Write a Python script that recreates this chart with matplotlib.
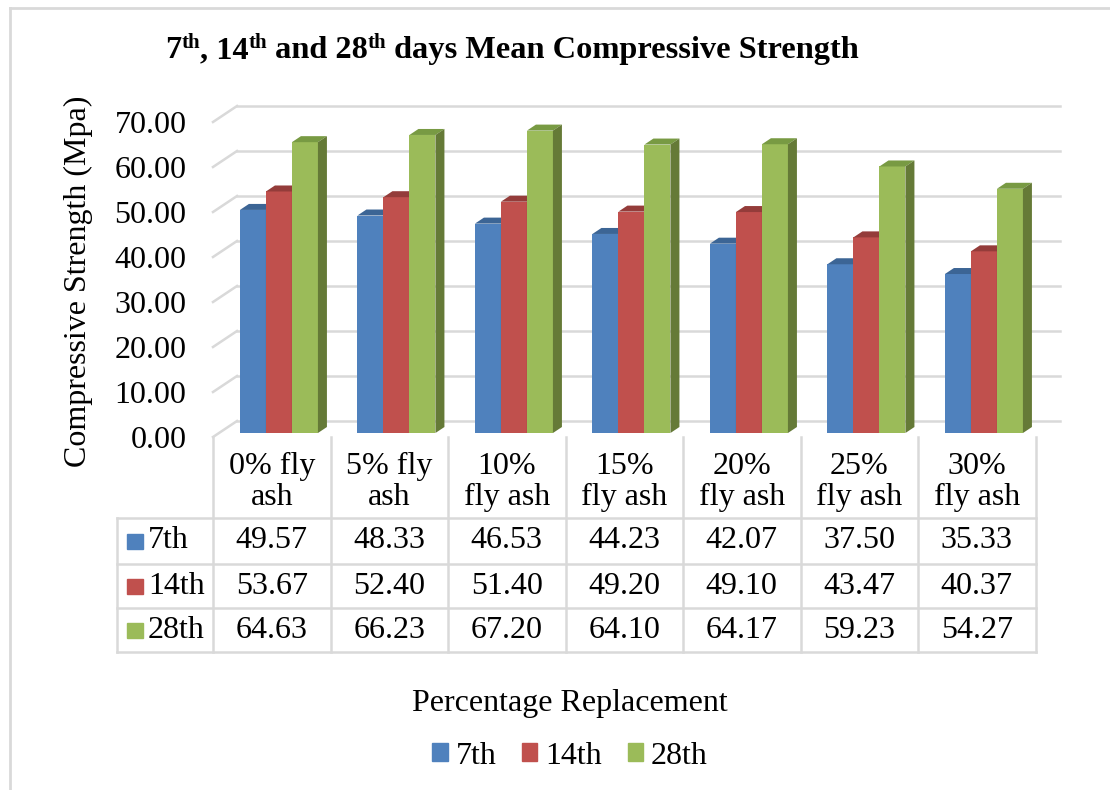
import matplotlib
matplotlib.use('Agg')
import matplotlib.pyplot as plt
from matplotlib.patches import Polygon, Patch
from matplotlib.lines import Line2D
import numpy as np

plt.rcParams['font.family'] = ['Liberation Serif', 'DejaVu Serif']

# data
categories = ['0% fly\nash', '5% fly\nash', '10%\nfly ash', '15%\nfly ash',
              '20%\nfly ash', '25%\nfly ash', '30%\nfly ash']
series_names = ['7th', '14th', '28th']
day7 = [49.57, 48.33, 46.53, 44.23, 42.07, 37.50, 35.33]
day14 = [53.67, 52.40, 51.40, 49.20, 49.10, 43.47, 40.37]
day28 = [64.63, 66.23, 67.20, 64.10, 64.17, 59.23, 54.27]
yticks = [0, 10, 20, 30, 40, 50, 60, 70]

front = ['#4F81BD', '#C0504D', '#9BBB59']
tops = ['#3C6595', '#943C3A', '#789A43']
sides = ['#2F5079', '#7A2F2D', '#657A37']
grid_c = '#D9D9D9'
FS = 23

W, H = 1110, 790
def fx(px): return px / W
def fy(py): return 1 - py / H

fig = plt.figure(figsize=(11.1, 7.9), dpi=100)

# main plot, x: category units, y: value units (front plane)
ax = fig.add_axes([fx(213), fy(437), fx(1035.5) - fx(213), fy(77) - fy(437)])
ax.set_xlim(-0.5, 6.5)
ax.set_ylim(0, 80)
for s in ax.spines.values():
    s.set_visible(False)
ax.set_xticks([])
ax.set_yticks(yticks)
ax.set_yticklabels([f'{v:.2f}' for v in yticks], fontsize=FS)
ax.tick_params(axis='y', length=0, pad=19)

# depth of the floor in data units
px_x = 822.5 / 7
px_y = 360 / 80
DX = 24 / px_x
DY = 16 / px_y

# back wall gridlines and left wall diagonals
for v in yticks:
    ax.plot([-0.5 + DX, 6.5 + DX], [v + DY, v + DY], color=grid_c, lw=1.8,
            clip_on=False, zorder=1)
    ax.plot([-0.5, -0.5 + DX], [v, v + DY], color=grid_c, lw=1.8,
            clip_on=False, zorder=1)

# 3d-ish bars
f1, f2 = 0.25, 0.625
w = 26 / px_x
x = np.arange(len(categories))
z = 3
for i, vals in enumerate([day7, day14, day28]):
    xl = x - 1.5 * w + i * w + f1 * DX + 0.01
    b0 = f1 * DY
    ddx = (f2 - f1) * DX
    ddy = (f2 - f1) * DY
    for j in range(len(x)):
        v = vals[j]
        ax.bar(xl[j], v, width=w, bottom=b0, align='edge', color=front[i],
               lw=0, zorder=z, clip_on=False)
        top = Polygon([(xl[j], b0 + v), (xl[j] + w, b0 + v),
                       (xl[j] + w + ddx, b0 + v + ddy), (xl[j] + ddx, b0 + v + ddy)],
                      closed=True, fc=tops[i], lw=0, zorder=z, clip_on=False)
        side = Polygon([(xl[j] + w, b0), (xl[j] + w, b0 + v),
                        (xl[j] + w + ddx, b0 + v + ddy), (xl[j] + w + ddx, b0 + ddy)],
                       closed=True, fc=sides[i], lw=0, zorder=z, clip_on=False)
        ax.add_patch(top)
        ax.add_patch(side)
    z += 1

# data table below
tab = fig.add_axes([fx(213), fy(652), fx(1035.5) - fx(213), fy(437) - fy(652)])
tab.set_xlim(-0.5, 6.5)
tab.set_ylim(215, 0)
tab.axis('off')
row_edges = [0, 81, 127, 171, 215]
left_x = -0.5 - 96 / px_x
for k in range(len(categories) + 1):
    tab.plot([k - 0.5, k - 0.5], [0, 215], color=grid_c, lw=1.8, clip_on=False)
tab.plot([left_x, left_x], [81, 215], color=grid_c, lw=1.8, clip_on=False)
for ye in row_edges[1:]:
    tab.plot([left_x, 6.5], [ye, ye], color=grid_c, lw=1.8, clip_on=False)

for j, c in enumerate(categories):
    tab.text(j, 45, c, ha='center', va='center', fontsize=FS, linespacing=1.08)

for i, vals in enumerate([day7, day14, day28]):
    yc = (row_edges[i + 1] + row_edges[i + 2]) / 2
    for j, v in enumerate(vals):
        tab.text(j, yc, f'{v:.2f}', ha='center', va='center', fontsize=FS)
    tab.add_patch(plt.Rectangle((left_x + 10 / px_x, yc - 7), 16 / px_x, 15,
                                color=front[i], clip_on=False))
    tab.text(left_x + 31 / px_x, yc, series_names[i], ha='left', va='center',
             fontsize=FS)

# title with superscripts
r = fig.canvas.get_renderer()
pieces = [('7', False), ('th', True), (', 14', False), ('th', True),
          (' and 28', False), ('th', True), (' days Mean Compressive Strength', False)]
xp = 165
for s, sup in pieces:
    t = fig.text(fx(xp), fy(58 - (10 if sup else 0)), s, fontsize=15 if sup else 23.3,
                 fontweight='bold', ha='left', va='baseline')
    xp += t.get_window_extent(r).width

fig.text(fx(78), fy(281), 'Compressive Strength (Mpa)', rotation=90,
         ha='center', va='center', fontsize=FS)
fig.text(fx(570), fy(703), 'Percentage Replacement', ha='center', va='center',
         fontsize=FS)

handles = [Patch(color=c, label=n) for c, n in zip(front, series_names)]
fig.legend(handles=handles, loc='center', bbox_to_anchor=(fx(570), fy(756)),
           ncol=3, frameon=False, fontsize=FS, handlelength=0.48, handleheight=0.48,
           handletextpad=0.25, columnspacing=0.8, borderpad=0)

# outer chart border (cropped at right and bottom)
fig.add_artist(Line2D([fx(10), 1], [fy(8), fy(8)], color=grid_c, lw=2))
fig.add_artist(Line2D([fx(10), fx(10)], [fy(8), 0], color=grid_c, lw=2))

fig.savefig('out.png', dpi=100)
